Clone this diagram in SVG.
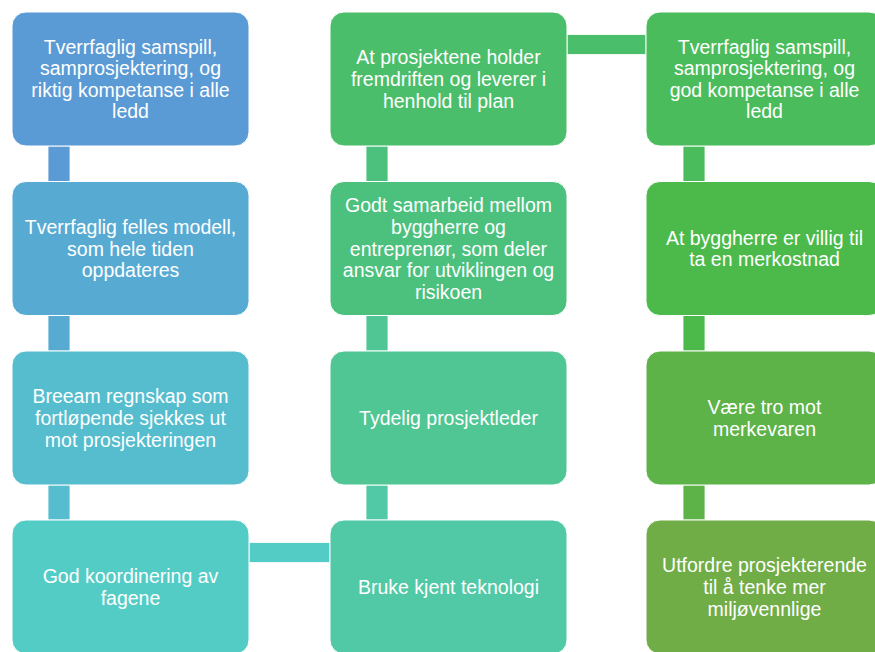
<svg xmlns="http://www.w3.org/2000/svg" width="875" height="652" viewBox="0 0 875 652">
  <style>
    .box { stroke: #ffffff; stroke-width: 1; }
    .bar { stroke: #ffffff; stroke-width: 0.8; }
    .lbl { font-family: "Liberation Sans", Arial, sans-serif; font-size: 19.5px; fill: #ffffff; text-anchor: middle; }
  </style>
  <rect width="875" height="652" fill="#ffffff"/>

  <!-- connectors: bars following the flow through the columns -->
  <g id="connectors">
    <rect class="bar" x="48" y="146" width="22" height="35.5" fill="#5B9BD5"/>
    <rect class="bar" x="48" y="315.5" width="22" height="35.5" fill="#57ABD3"/>
    <rect class="bar" x="48" y="485" width="22" height="35" fill="#55BDCE"/>
    <rect class="bar" x="249" y="542.5" width="81" height="20" fill="#54CCC6"/>
    <rect class="bar" x="366" y="485" width="22" height="35" fill="#51C9A6"/>
    <rect class="bar" x="366" y="315.5" width="22" height="35.5" fill="#4FC693"/>
    <rect class="bar" x="366" y="146" width="22" height="35.5" fill="#4CC17E"/>
    <rect class="bar" x="567" y="34.5" width="79" height="20" fill="#4BBE6C"/>
    <rect class="bar" x="683" y="146" width="22" height="35.5" fill="#4BBC5C"/>
    <rect class="bar" x="683" y="315.5" width="22" height="35.5" fill="#4BBA4B"/>
    <rect class="bar" x="683" y="485" width="22" height="35" fill="#5DB248"/>
  </g>

  <!-- column 1 -->
  <g id="n1">
    <rect class="box" x="12" y="12" width="237" height="134" rx="14" fill="#5B9BD5"/>
    <text class="lbl"><tspan x="130.5" y="53.6">Tverrfaglig samspill,</tspan><tspan x="130.5" y="75.2">samprosjektering, og</tspan><tspan x="130.5" y="96.8">riktig kompetanse i alle</tspan><tspan x="130.5" y="118.4">ledd</tspan></text>
  </g>
  <g id="n2">
    <rect class="box" x="12" y="181.5" width="237" height="134" rx="14" fill="#57ABD3"/>
    <text class="lbl"><tspan x="130.5" y="233.9">Tverrfaglig felles modell,</tspan><tspan x="130.5" y="255.5">som hele tiden</tspan><tspan x="130.5" y="277.1">oppdateres</tspan></text>
  </g>
  <g id="n3">
    <rect class="box" x="12" y="351" width="237" height="134" rx="14" fill="#55BDCE"/>
    <text class="lbl"><tspan x="130.5" y="403.4">Breeam regnskap som</tspan><tspan x="130.5" y="425">fortløpende sjekkes ut</tspan><tspan x="130.5" y="446.6">mot prosjekteringen</tspan></text>
  </g>
  <g id="n4">
    <rect class="box" x="12" y="520" width="237" height="134" rx="14" fill="#54CCC6"/>
    <text class="lbl"><tspan x="130.5" y="583.2">God koordinering av</tspan><tspan x="130.5" y="604.8">fagene</tspan></text>
  </g>

  <!-- column 2 -->
  <g id="n5">
    <rect class="box" x="330" y="520" width="237" height="134" rx="14" fill="#51C9A6"/>
    <text class="lbl"><tspan x="448.5" y="594">Bruke kjent teknologi</tspan></text>
  </g>
  <g id="n6">
    <rect class="box" x="330" y="351" width="237" height="134" rx="14" fill="#4FC693"/>
    <text class="lbl"><tspan x="448.5" y="425">Tydelig prosjektleder</tspan></text>
  </g>
  <g id="n7">
    <rect class="box" x="330" y="181.5" width="237" height="134" rx="14" fill="#4CC17E"/>
    <text class="lbl"><tspan x="448.5" y="212.3">Godt samarbeid mellom</tspan><tspan x="448.5" y="233.9">byggherre og</tspan><tspan x="448.5" y="255.5">entreprenør, som deler</tspan><tspan x="448.5" y="277.1">ansvar for utviklingen og</tspan><tspan x="448.5" y="298.7">risikoen</tspan></text>
  </g>
  <g id="n8">
    <rect class="box" x="330" y="12" width="237" height="134" rx="14" fill="#4BBE6C"/>
    <text class="lbl"><tspan x="448.5" y="64.4">At prosjektene holder</tspan><tspan x="448.5" y="86">fremdriften og leverer i</tspan><tspan x="448.5" y="107.6">henhold til plan</tspan></text>
  </g>

  <!-- column 3 -->
  <g id="n9">
    <rect class="box" x="646" y="12" width="237" height="134" rx="14" fill="#4BBC5C"/>
    <text class="lbl"><tspan x="764.5" y="53.6">Tverrfaglig samspill,</tspan><tspan x="764.5" y="75.2">samprosjektering, og</tspan><tspan x="764.5" y="96.8">god kompetanse i alle</tspan><tspan x="764.5" y="118.4">ledd</tspan></text>
  </g>
  <g id="n10">
    <rect class="box" x="646" y="181.5" width="237" height="134" rx="14" fill="#4BBA4B"/>
    <text class="lbl"><tspan x="764.5" y="244.7">At byggherre er villig til</tspan><tspan x="764.5" y="266.3">ta en merkostnad</tspan></text>
  </g>
  <g id="n11">
    <rect class="box" x="646" y="351" width="237" height="134" rx="14" fill="#5DB248"/>
    <text class="lbl"><tspan x="764.5" y="414.2">Være tro mot</tspan><tspan x="764.5" y="435.8">merkevaren</tspan></text>
  </g>
  <g id="n12">
    <rect class="box" x="646" y="520" width="237" height="134" rx="14" fill="#70AD47"/>
    <text class="lbl"><tspan x="764.5" y="572.4">Utfordre prosjekterende</tspan><tspan x="764.5" y="594">til å tenke mer</tspan><tspan x="764.5" y="615.6">miljøvennlige</tspan></text>
  </g>
</svg>
